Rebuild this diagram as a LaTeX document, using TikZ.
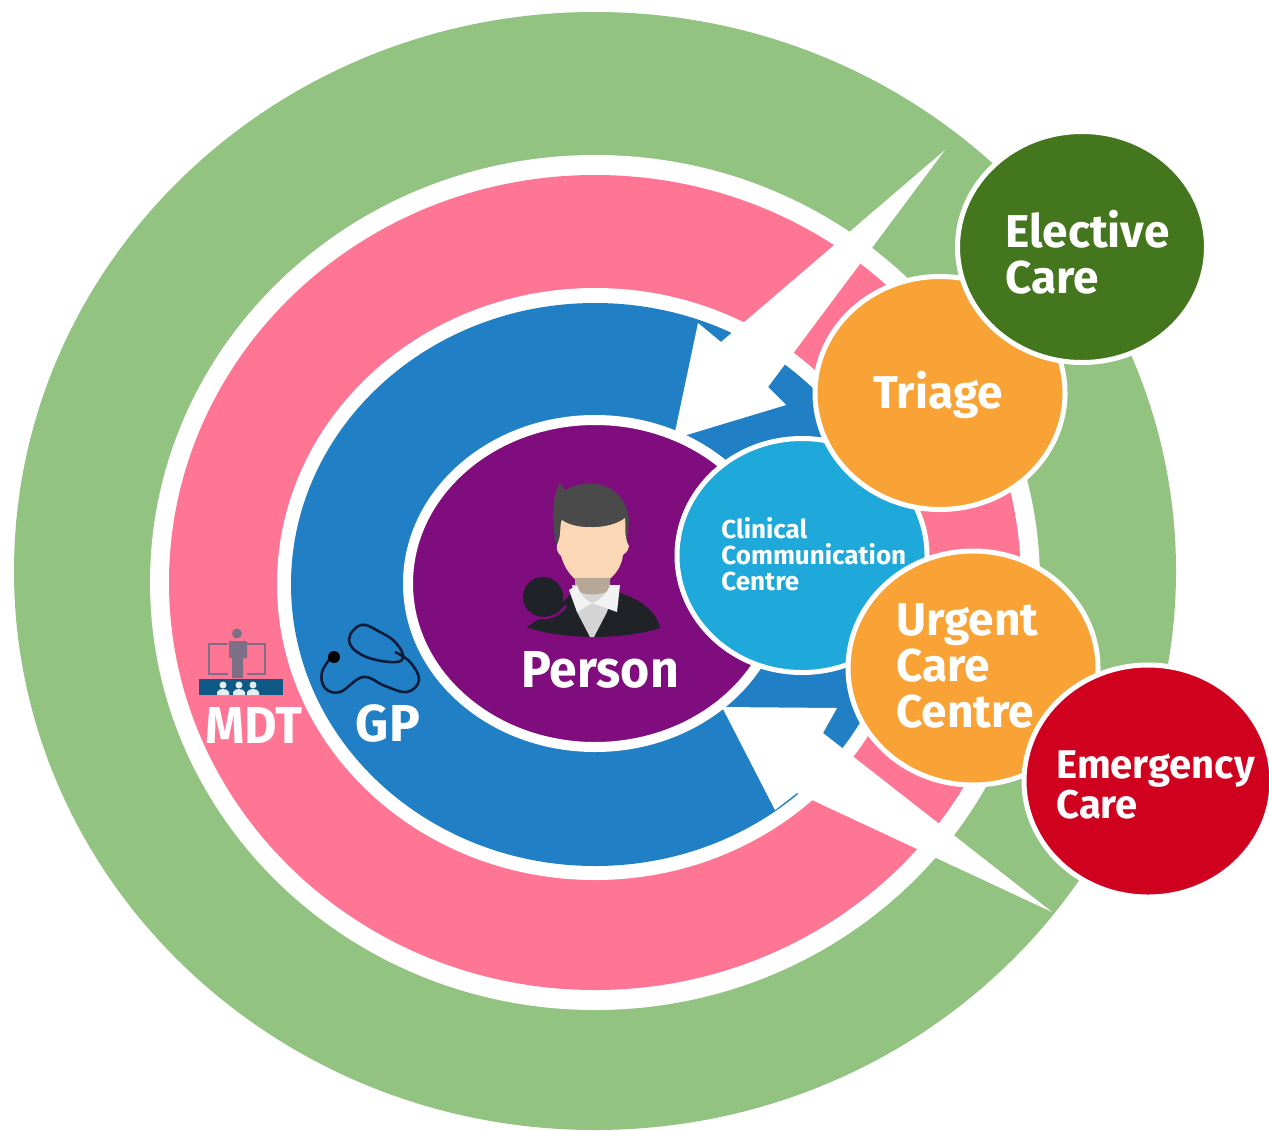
\documentclass[tikz,border=0pt]{standalone}
\usepackage{fontspec}
\setmainfont{Fira Sans}
\usetikzlibrary{shapes.geometric}
\definecolor{ringgreen}{HTML}{93C381}
\definecolor{ringpink}{HTML}{FF7594}
\definecolor{ringblue}{HTML}{2180C5}
\definecolor{personpurple}{HTML}{800D7E}
\definecolor{clinicalblue}{HTML}{1FA9DA}
\definecolor{careorange}{HTML}{F9A337}
\definecolor{electivegreen}{HTML}{44761E}
\definecolor{emergencyred}{HTML}{D0001F}
\definecolor{suitdark}{HTML}{1F2328}
\definecolor{hairgrey}{HTML}{4A4A4A}
\definecolor{skin}{HTML}{FBD7B5}
\definecolor{mdtgrey}{HTML}{7D6F85}
\definecolor{mdtnavy}{HTML}{0F5A85}
\definecolor{tubenavy}{HTML}{0B1B3A}
\tikzset{
  bubble/.style={ellipse,draw=white,line width=2.5pt,inner sep=0pt,minimum width=#1},
  bubbleh/.style={minimum height=#1},
  lbl/.style={text=white,font=\bfseries\fontsize{#1}{#1}\selectfont,align=left,inner sep=0pt},
}
\newcommand{\sx}[2]{\scalebox{#1}[1]{#2}}
\begin{document}
\begin{tikzpicture}[x=0.5pt,y=-0.5pt]
\useasboundingbox (0,0) rectangle (1269,1130);
\clip (0,0) rectangle (1269,1130);
\fill[white] (0,0) rectangle (1269,1130);
% rings
\fill[ringgreen] (595,571) ellipse [x radius=581,y radius=559];
\fill[white] (595,582.5) ellipse [x radius=445,y radius=427.5];
\fill[ringpink] (595,582.5) ellipse [x radius=426,y radius=407.5];
\fill[white] (595,584) ellipse [x radius=318,y radius=296];
\fill[ringblue] (595,584.5) ellipse [x radius=304,y radius=281.5];
% white wedge arrows
\fill[white] (675,432) -- (698,323) -- (721,342) -- (945,150) -- (768,387) -- (786,405) -- (680,437) -- cycle;
\fill[white] (722,707) -- (837,708) -- (823,733) -- (1052,912) -- (797,793) -- (775,810) -- cycle;
% person disc
\node[ellipse,fill=personpurple,draw=white,line width=5pt,inner sep=0pt,minimum width=187pt,minimum height=163.5pt] (person) at (595,583.5) {};
% icon: person
\fill[suitdark] (527,627) .. controls (560,605) and (570,598) .. (572,590) -- (612,590) .. controls (630,596) and (655,605) .. (660,628) .. controls (625,640) and (560,640) .. (527,627) -- cycle;
\fill[suitdark] (543,597) circle [radius=20];
\draw[personpurple,line width=1.2pt] (528,612) .. controls (538,622) and (555,620) .. (566,606);
\fill[hairgrey] (555,540) .. controls (552,510) and (553,495) .. (560,483) -- (565,490) .. controls (585,478) and (625,480) .. (629,520) -- (627,545) -- (557,545) -- cycle;
\fill[skin] (557,545) .. controls (562,535) and (559,525) .. (562,520) .. controls (575,530) and (610,530) .. (625,518) .. controls (626,530) and (624,538) .. (629,546) .. controls (628,552) and (625,553) .. (623,555) .. controls (622,568) and (610,585) .. (592,586) .. controls (575,585) and (565,570) .. (561,556) .. controls (558,553) and (556,550) .. (557,545) -- cycle;
\fill[black!17] (572,585) -- (612,585) -- (612,596) -- (607,612) -- (594,637) -- (590,637) -- (577,612) -- cycle;
\fill[gray!55!skin] (575,578) -- (610,578) -- (610,590) .. controls (600,596) and (585,596) .. (575,590) -- cycle;
\fill[white!90!gray] (569,590) -- (577,585) .. controls (580,594) and (585,600) .. (592,603) -- (577,612) -- cycle;
\fill[white!90!gray] (620,585) -- (610,585) .. controls (607,594) and (600,600) .. (592,603) -- (617,612) -- cycle;
% icon: MDT
\draw[mdtgrey,line width=1pt] (228,644) -- (209,644) -- (209,674) -- (228,674);
\draw[mdtgrey,line width=1pt] (247,644) -- (265,644) -- (265,674) -- (247,674);
\fill[mdtgrey] (237,633.5) circle [radius=5];
\fill[mdtgrey] (229,641) -- (247,641) -- (247,658) -- (243,658) -- (243,678) -- (232,678) -- (232,658) -- (229,658) -- cycle;
\fill[mdtnavy] (199,679) rectangle (283,695);
\foreach \cx in {223,239,253}{
  \fill[white!90!mdtnavy] (\cx,685) circle [radius=3.5];
  \fill[white!90!mdtnavy] (\cx-6,695) -- (\cx-6,692) .. controls (\cx-4,688) and (\cx+4,688) .. (\cx+6,692) -- (\cx+6,695) -- cycle;
}
% icon: stethoscope
\draw[tubenavy,line width=1.3pt] plot[smooth,tension=0.65] coordinates {(333,655) (322,672) (325,688) (340,692) (363,677) (385,686) (407,692) (419,680) (410,662) (395,652)};
\draw[tubenavy,line width=1.3pt] plot[smooth cycle,tension=0.7] coordinates {(361,625) (349,640) (362,655) (390,662) (403,658) (396,643) (380,632)};
\fill[black] (334,657) circle [radius=6];
% bubbles
\node[bubble=125pt,bubbleh=117pt,fill=clinicalblue] (clinical) at (802,555.5) {};
\node[bubble=125pt,bubbleh=116.5pt,fill=careorange] (triage) at (940,393) {};
\node[bubble=124.5pt,bubbleh=115.5pt,fill=electivegreen] (elective) at (1082,247) {};
\node[bubble=125pt,bubbleh=117pt,fill=careorange] (urgent) at (973,668) {};
\node[bubble=124pt,bubbleh=116pt,fill=emergencyred] (emergency) at (1148,781) {};
% labels
\node[lbl=26] (personlabel) at (600,670) {\sx{0.96}{Person}};
\node[lbl=26] (mdtlabel) at (254,725) {\sx{0.96}{MDT}};
\node[lbl=26] (gplabel) at (388,723) {\sx{0.99}{GP}};
\node[lbl=13,anchor=west] (clinicallabel) at (721,554) {Clinical\\Communication\\Centre};
\node[lbl=23] (triagelabel) at (938,395) {Triage};
\node[lbl=23,anchor=west] (electivelabel) at (1005,252) {Elective\\Care};
\node[lbl=23,anchor=west] (urgentlabel) at (896,666) {Urgent\\Care\\Centre};
\node[lbl=20,anchor=west] (emergencylabel) at (1056,785) {Emergency\\Care};
\end{tikzpicture}
\end{document}
